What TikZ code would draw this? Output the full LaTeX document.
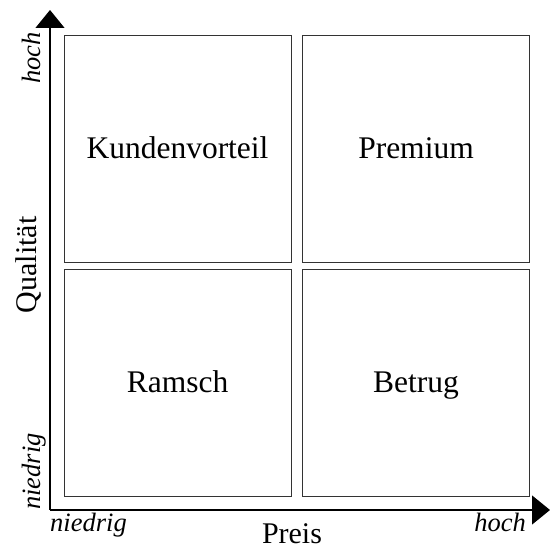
\documentclass[tikz,border=0pt]{standalone}
\usepackage{fontspec}
\setmainfont{Liberation Serif}
\usetikzlibrary{arrows.meta}
\tikzset{
  quad/.style={draw=black!80, line width=0.9pt, minimum width=227pt, minimum height=227pt, inner sep=0pt,
    text height=26pt, text depth=6pt, font=\fontsize{31.5}{36}\selectfont},
  axis/.style={line width=1.2pt, -{Triangle[length=18pt, width=29pt]}},
  lab/.style={font=\fontsize{26.5}{30}\selectfont\itshape, inner sep=0pt},
  title/.style={font=\fontsize{30}{34}\selectfont, inner sep=0pt}
}
\begin{document}
\begin{tikzpicture}[x=1pt,y=-1pt]
\useasboundingbox (0,0) rectangle (550,548);
\node[quad] (kv) at (177.5,148.5) {Kundenvorteil};
\node[quad] (pr) at (416,148.5) {Premium};
\node[quad] (ra) at (177.5,382.5) {Ramsch};
\node[quad] (be) at (416,382.5) {Betrug};
\coordinate (o) at (50,510);
\coordinate (yt) at (50,10);
\coordinate (xt) at (550,510);
\draw[axis] (o) -- (yt);
\draw[axis] (o) -- (xt);
\node[lab, anchor=base west] (xn) at (50,532) {niedrig};
\node[lab, anchor=base east] (xh) at (526,532) {hoch};
\node[lab, rotate=90, anchor=base west] (yn) at (41,510) {niedrig};
\node[lab, rotate=90, anchor=base east] (yh) at (41,32) {hoch};
\node[title, anchor=base] (px) at (292,544) {Preis};
\node[title, rotate=90, anchor=base] (qy) at (36,265) {Qualität};
\end{tikzpicture}
\end{document}
